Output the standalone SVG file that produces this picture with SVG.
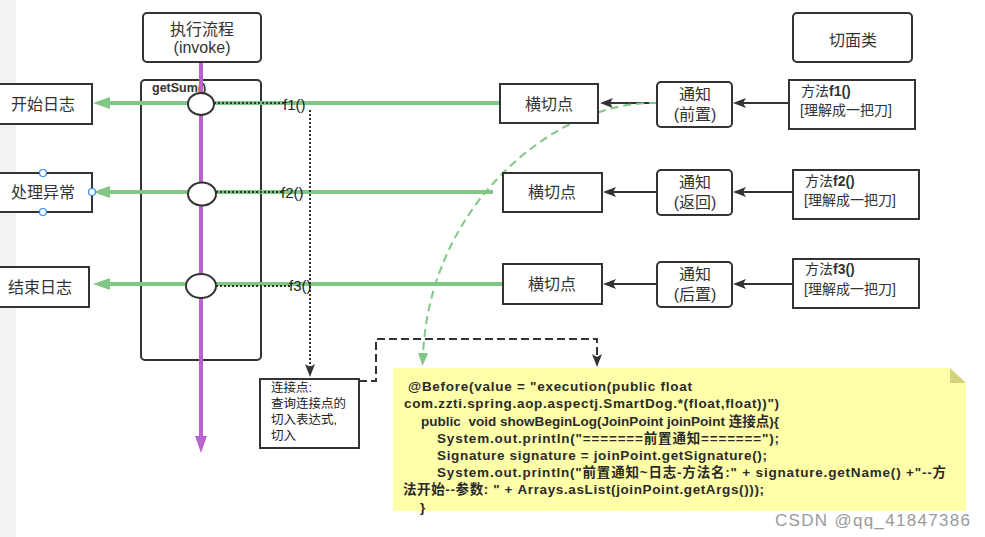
<svg xmlns="http://www.w3.org/2000/svg" width="985" height="537" viewBox="0 0 985 537">
<style>
  .box { fill: #ffffff; stroke: #333333; stroke-width: 2; }
  .lbl { font-family: "Liberation Sans", "Noto Sans CJK SC", sans-serif; font-size: 16px; fill: #333333; text-anchor: middle; }
  .sm { font-family: "Liberation Sans", "Noto Sans CJK SC", sans-serif; font-size: 14px; fill: #333333; }
  .ftxt { font-family: "Liberation Sans", "Noto Sans CJK SC", sans-serif; font-size: 15px; fill: #222222; }
  .code { font-family: "Liberation Sans", "Noto Sans CJK SC", sans-serif; font-size: 13.5px; font-weight: bold; fill: #2a2a2a; white-space: pre; }
  .green { stroke: #80c684; stroke-width: 4; fill: none; }
  .dark { stroke: #333333; stroke-width: 2; fill: none; }
  .dot { stroke: #333333; stroke-width: 2; stroke-dasharray: 2 2; fill: none; }
  .handle { fill: #ffffff; stroke: #2d8cf0; stroke-width: 1.2; }
</style>
<defs>
  <marker id="ah-dark" viewBox="0 0 13 10" refX="3" refY="5" markerWidth="13" markerHeight="10" markerUnits="userSpaceOnUse" orient="auto">
    <path d="M0,0 L13,5 L0,10 L3,5 z" fill="#333333"/>
  </marker>
  <marker id="ah-green" viewBox="0 0 17 12" refX="2" refY="6" markerWidth="17" markerHeight="12" markerUnits="userSpaceOnUse" orient="auto">
    <path d="M0,0 L17,6 L0,12 z" fill="#80c684"/>
  </marker>
  <marker id="ah-green-s" viewBox="0 0 13 10" refX="2" refY="5" markerWidth="13" markerHeight="10" markerUnits="userSpaceOnUse" orient="auto">
    <path d="M0,0 L13,5 L0,10 z" fill="#80c684"/>
  </marker>
  <marker id="ah-purple" viewBox="0 0 17 12" refX="2" refY="6" markerWidth="17" markerHeight="12" markerUnits="userSpaceOnUse" orient="auto">
    <path d="M0,0 L17,6 L0,12 z" fill="#b764cf"/>
  </marker>
</defs>

<rect x="0" y="0" width="985" height="537" fill="#ffffff"/>
<rect x="0" y="0" width="16" height="537" fill="#f2f2f2"/>

<!-- getSum container -->
<g id="getSum">
  <rect class="box" x="141" y="80" width="120" height="280" rx="4"/>
  <text x="152" y="92" font-family="Liberation Sans, sans-serif" font-size="12.5" font-weight="bold" fill="#333333">getSum()</text>
</g>

<!-- connectors -->
<g id="connectors">
  <!-- purple invoke flow -->
  <path d="M201,62 L201,438" stroke="#b764cf" stroke-width="4" fill="none" marker-end="url(#ah-purple)"/>
  <!-- green pointcut lines -->
  <path class="green" d="M500,103 L108,103" marker-end="url(#ah-green)"/>
  <path class="green" d="M493,192 L108,192" marker-end="url(#ah-green)"/>
  <path class="green" d="M503,284 L108,284" marker-end="url(#ah-green)"/>
  <!-- dotted from joinpoints to labels -->
  <path class="dot" d="M214,103 L284,103"/>
  <path class="dot" d="M216,192 L282,192"/>
  <path class="dot" d="M216,286 L290,286"/>
  <!-- dotted down to 连接点 -->
  <path class="dot" d="M310,110 L310,367" marker-end="url(#ah-dark)"/>
  <!-- advice to pointcut -->
  <path class="dark" d="M657,103 L610,103" marker-end="url(#ah-dark)"/>
  <path class="dark" d="M657,192 L613,192" marker-end="url(#ah-dark)"/>
  <path class="dark" d="M657,284 L613,284" marker-end="url(#ah-dark)"/>
  <!-- method to advice -->
  <path class="dark" d="M789,103 L743,103" marker-end="url(#ah-dark)"/>
  <path class="dark" d="M793,192 L743,192" marker-end="url(#ah-dark)"/>
  <path class="dark" d="M793,284 L743,284" marker-end="url(#ah-dark)"/>
  <!-- green dashed curve to note -->
  <path d="M657,103 C560,100 430,200 423,355" stroke="#80c684" stroke-width="2" stroke-dasharray="8 5" fill="none" marker-end="url(#ah-green-s)"/>
  <!-- dark dashed from 连接点 to note -->
  <path d="M359,381 L376,381 L376,339 L597,339 L597,357" stroke="#333333" stroke-width="2" stroke-dasharray="8 4" fill="none" marker-end="url(#ah-dark)"/>
</g>

<!-- joinpoint ellipses -->
<g id="jp1"><ellipse class="box" cx="201" cy="104" rx="13" ry="11"/></g>
<g id="jp2"><ellipse class="box" cx="202" cy="194" rx="14" ry="11.5"/></g>
<g id="jp3"><ellipse class="box" cx="201" cy="286" rx="15" ry="12"/></g>

<g id="f-labels">
  <text class="ftxt" x="283" y="110">f1()</text>
  <text class="ftxt" x="281" y="198">f2()</text>
  <text class="ftxt" x="289" y="291">f3()</text>
</g>

<g id="invoke">
  <rect class="box" x="143" y="13" width="118" height="49" rx="4"/>
  <text class="lbl" x="202" y="35">执行流程</text>
  <text class="lbl" x="202" y="53">(invoke)</text>
</g>

<g id="aspect">
  <rect class="box" x="793" y="13" width="119" height="49" rx="4"/>
  <text class="lbl" x="853" y="46">切面类</text>
</g>

<g id="log-start">
  <rect class="box" x="-2" y="84" width="94" height="40"/>
  <text class="lbl" x="43" y="110">开始日志</text>
</g>
<g id="log-exception">
  <rect class="box" x="-2" y="173" width="94" height="39"/>
  <text class="lbl" x="43" y="198">处理异常</text>
  <circle class="handle" cx="43" cy="173" r="3.5"/>
  <circle class="handle" cx="92" cy="192" r="3.5"/>
  <circle class="handle" cx="43" cy="212" r="3.5"/>
</g>
<g id="log-end">
  <rect class="box" x="-2" y="267" width="91" height="40"/>
  <text class="lbl" x="40" y="293">结束日志</text>
</g>

<g id="pc1">
  <rect class="box" x="500" y="84" width="98" height="39"/>
  <text class="lbl" x="549" y="110">横切点</text>
</g>
<g id="pc2">
  <rect class="box" x="503" y="173" width="99" height="39"/>
  <text class="lbl" x="552" y="198">横切点</text>
</g>
<g id="pc3">
  <rect class="box" x="503" y="264" width="99" height="40"/>
  <text class="lbl" x="552" y="290">横切点</text>
</g>

<g id="adv1">
  <rect class="box" x="657" y="82" width="75" height="45" rx="4"/>
  <text class="lbl" x="695" y="100">通知</text>
  <text class="lbl" x="695" y="120">(前置)</text>
</g>
<g id="adv2">
  <rect class="box" x="657" y="170" width="75" height="45" rx="4"/>
  <text class="lbl" x="695" y="188">通知</text>
  <text class="lbl" x="695" y="208">(返回)</text>
</g>
<g id="adv3">
  <rect class="box" x="657" y="262" width="75" height="45" rx="4"/>
  <text class="lbl" x="695" y="280">通知</text>
  <text class="lbl" x="695" y="300">(后置)</text>
</g>

<g id="m1">
  <rect class="box" x="789" y="80" width="126" height="49"/>
  <text class="sm" x="801" y="96">方法<tspan font-weight="bold">f1()</tspan></text>
  <text class="sm" x="800" y="115">[理解成一把刀]</text>
</g>
<g id="m2">
  <rect class="box" x="793" y="170" width="126" height="49"/>
  <text class="sm" x="805" y="186">方法<tspan font-weight="bold">f2()</tspan></text>
  <text class="sm" x="804" y="205">[理解成一把刀]</text>
</g>
<g id="m3">
  <rect class="box" x="793" y="259" width="126" height="49"/>
  <text class="sm" x="805" y="274">方法<tspan font-weight="bold">f3()</tspan></text>
  <text class="sm" x="804" y="294">[理解成一把刀]</text>
</g>

<g id="joinpoint-note">
  <rect class="box" x="260" y="379" width="99" height="69"/>
  <text x="271" y="392" font-family="Liberation Sans, Noto Sans CJK SC, sans-serif" font-size="12.5" fill="#222222">连接点:</text>
  <text x="271" y="408" font-family="Liberation Sans, Noto Sans CJK SC, sans-serif" font-size="12.5" fill="#222222">查询连接点的</text>
  <text x="271" y="424" font-family="Liberation Sans, Noto Sans CJK SC, sans-serif" font-size="12.5" fill="#222222">切入表达式,</text>
  <text x="271" y="440" font-family="Liberation Sans, Noto Sans CJK SC, sans-serif" font-size="12.5" fill="#222222">切入</text>
</g>

<g id="code-note">
  <path d="M393,368 L950,368 L966,383 L966,511 L393,511 z" fill="#ffffaa"/>
  <path d="M950,368 L966,383 L950,383 z" fill="#d3d37e"/>
  <text class="code" x="408" y="391" textLength="284">@Before(value = "execution(public float</text>
  <text class="code" x="404" y="408" textLength="375">com.zzti.spring.aop.aspectj.SmartDog.*(float,float))")</text>
  <text class="code" x="421" y="426" textLength="358">public  void showBeginLog(JoinPoint joinPoint 连接点){</text>
  <text class="code" x="437" y="443" textLength="342">System.out.println("=======前置通知=======");</text>
  <text class="code" x="437" y="460" textLength="330">Signature signature = joinPoint.getSignature();</text>
  <text class="code" x="437" y="477" textLength="509">System.out.println("前置通知~日志-方法名:" + signature.getName() +"--方</text>
  <text class="code" x="403" y="494" textLength="361">法开始--参数: " + Arrays.asList(joinPoint.getArgs()));</text>
  <text class="code" x="420" y="512">}</text>
</g>

<text x="775" y="526" font-family="Liberation Sans, sans-serif" font-size="17" fill="#9a9a9a" textLength="195">CSDN @qq_41847386</text>
</svg>
